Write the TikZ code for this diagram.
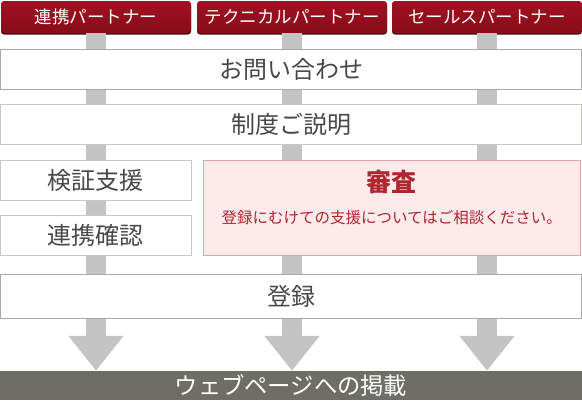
\documentclass[tikz,border=0pt]{standalone}
\usepackage{fontspec}
\setmainfont{Noto Sans CJK JP}
\usetikzlibrary{arrows.meta}
\definecolor{topred}{HTML}{A01222}
\definecolor{topredb}{HTML}{880C18}
\definecolor{topshadow}{HTML}{4A0A10}
\definecolor{bargray}{HTML}{C4C4C4}
\definecolor{boxline}{HTML}{A8A8A8}
\definecolor{boxlinel}{HTML}{C8C8C2}
\definecolor{txtgray}{HTML}{484848}
\definecolor{pinkfill}{HTML}{FDEBEC}
\definecolor{pinkline}{HTML}{E2A4AA}
\definecolor{redtxt}{HTML}{B02630}
\definecolor{darkbar}{HTML}{6E6D66}
\tikzset{
  topbox/.style={rounded corners=3pt, top color=topred, bottom color=topredb,
    preaction={fill=topshadow, transform canvas={yshift=-1.5pt}},
    minimum width=190pt, minimum height=32pt, inner sep=0pt,
    text=white, font=\fontsize{17.5pt}{17.5pt}\selectfont},
  rowbox/.style={draw=boxline, line width=1pt, fill=white, minimum width=581pt,
    minimum height=40pt, inner sep=0pt, text=txtgray,
    font=\fontsize{24pt}{24pt}\selectfont},
  lightline/.style={draw=boxlinel},
  flowbar/.style={draw=bargray, line width=20pt,
    -{Triangle[width=53pt,length=35pt]}}
}
\begin{document}
\begin{tikzpicture}[x=1pt,y=-1pt]
\useasboundingbox (0,0) rectangle (582,400);
% bottom bar
\node[fill=darkbar, minimum width=582pt, minimum height=29pt, inner sep=0pt,
  text=white, font=\fontsize{23.3pt}{23.3pt}\selectfont] (web) at (291,385.5) {ウェブページへの掲載};
% top boxes
\node[topbox] (p1) at (96,17) {連携パートナー};
\node[topbox] (p2) at (292,17) {テクニカルパートナー};
\node[topbox] (p3) at (487,17) {セールスパートナー};
% flow bars
\draw[flowbar] (p1.south) -- (web.north -| p1.south);
\draw[flowbar] (p2.south) -- (web.north -| p2.south);
\draw[flowbar] (p3.south) -- (web.north -| p3.south);
% rows
\node[rowbox] (ask) at (291,69.3) {お問い合わせ};
\node[rowbox, lightline] (explain) at (291,124.3) {制度ご説明};
\node[rowbox, lightline, minimum width=190.5pt] (verify) at (95.75,180) {検証支援};
\node[rowbox, lightline, minimum width=190.5pt] (confirm) at (95.75,235) {連携確認};
\node[draw=pinkline, fill=pinkfill, line width=1pt, minimum width=377.5pt,
  minimum height=95pt, inner sep=0pt] (review) at (391.75,207.5) {};
\node[text=redtxt, font=\bfseries\fontsize{25pt}{25pt}\selectfont] (reviewT) at (391.75,182) {審査};
\node[text=redtxt, font=\fontsize{15.5pt}{15.5pt}\selectfont] (reviewS) at (391.75,218) {登録にむけての支援についてはご相談ください。};
\node[rowbox, minimum height=44pt] (reg) at (291,296) {登録};
\end{tikzpicture}
\end{document}
